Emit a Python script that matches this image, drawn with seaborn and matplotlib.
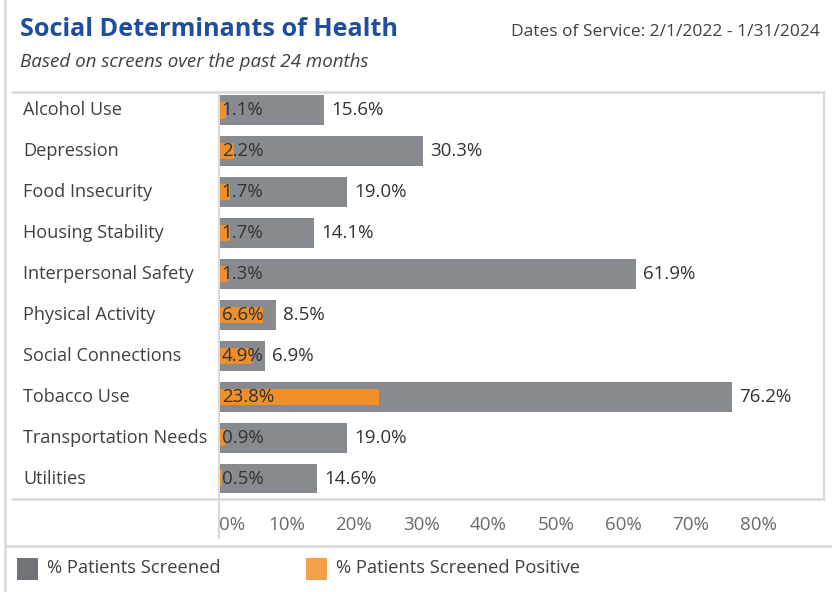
import matplotlib
matplotlib.use("Agg")
import matplotlib.pyplot as plt
from matplotlib.lines import Line2D
from matplotlib.patches import Rectangle
import seaborn as sns
import pandas as pd

categories = ["Alcohol Use", "Depression", "Food Insecurity", "Housing Stability",
              "Interpersonal Safety", "Physical Activity", "Social Connections",
              "Tobacco Use", "Transportation Needs", "Utilities"]
screened = [15.6, 30.3, 19.0, 14.1, 61.9, 8.5, 6.9, 76.2, 19.0, 14.6]
positive = [1.1, 2.2, 1.7, 1.7, 1.3, 6.6, 4.9, 23.8, 0.9, 0.5]
xticks = [0, 10, 20, 30, 40, 50, 60, 70, 80]
series_names = ["% Patients Screened", "% Patients Screened Positive"]

GRAY = "#878A8F"
ORANGE = "#EF8F2A"
LEG_GRAY = "#6F7277"
LEG_ORANGE = "#F5A048"
TXT = "#404040"
LINE = "#D9D9D9"

sns.set_theme(style="white")
plt.rcParams["font.family"] = ["Open Sans", "DejaVu Sans"]

df = pd.DataFrame({"cat": categories, "screened": screened, "positive": positive})

W, H = 832, 592
fig = plt.figure(figsize=(W / 100, H / 100), dpi=100)
ax = fig.add_axes([219 / W, 1 - 499 / H, (824 - 219) / W, (499 - 92) / H])

sns.barplot(data=df, x="screened", y="cat", orient="h", color=GRAY,
            width=0.73, saturation=1, linewidth=0, ax=ax)
sns.barplot(data=df, x="positive", y="cat", orient="h", color=ORANGE,
            width=0.40, saturation=1, linewidth=0, ax=ax)

ax.set_xlim(0, 89.8)
ax.set_ylim(9.5, -0.45)
ax.set_xlabel("")
ax.set_ylabel("")
ax.set_yticks([])
ax.set_xticks(xticks)
ax.set_xticklabels([f"{t}%" for t in xticks], fontsize=13.5, color="#6A6A6A")
ax.get_xticklabels()[0].set_horizontalalignment("left")
ax.tick_params(axis="x", length=6, width=1, color="#EBEBEB", pad=6, direction="out")
for s in ["top", "left", "bottom"]:
    ax.spines[s].set_visible(False)
ax.spines["right"].set_color(LINE)
ax.spines["right"].set_linewidth(1.5)

# value labels
ax.bar_label(ax.containers[0], labels=[f"{v:.1f}%" for v in screened],
             padding=5, fontsize=13.5, color="#333333")
for i, v in enumerate(positive):
    ax.text(0.4, i, f"{v:.1f}%", ha="left", va="center", fontsize=13.5,
            color="#333333")

# category labels
for i, c in enumerate(categories):
    ax.text(23 / W, ax.transData.transform((0, i))[1] / H, c,
            transform=fig.transFigure, ha="left", va="center",
            fontsize=13.1, color=TXT)

# frame lines
fig.add_artist(Line2D([12 / W, 824 / W], [1 - 92 / H] * 2, color=LINE, lw=1.8,
                      transform=fig.transFigure))
fig.add_artist(Line2D([12 / W, 824 / W], [1 - 499 / H] * 2, color=LINE, lw=1.8,
                      transform=fig.transFigure))
fig.add_artist(Line2D([219 / W] * 2, [1 - 92 / H, 1 - 538 / H], color=LINE, lw=1.5,
                      transform=fig.transFigure))
fig.add_artist(Line2D([5 / W] * 2, [0, 1], color=LINE, lw=1.8,
                      transform=fig.transFigure))
fig.add_artist(Line2D([5 / W, 1], [1 - 546 / H] * 2, color=LINE, lw=1.8,
                      transform=fig.transFigure))

# titles
fig.text(20 / W, 1 - 30 / H, "Social Determinants of Health", ha="left", va="center",
         fontsize=18.2, fontweight="bold", color="#1F4E9E")
fig.text(820 / W, 1 - 32 / H, "Dates of Service: 2/1/2022 - 1/31/2024", ha="right",
         va="center", fontsize=12.5, color=TXT)
fig.text(20 / W, 1 - 62 / H, "Based on screens over the past 24 months", ha="left",
         va="center", fontsize=13.5, style="italic", color=TXT)

# legend
for x0, col, name in [(17, LEG_GRAY, series_names[0]), (306, LEG_ORANGE, series_names[1])]:
    fig.add_artist(Rectangle((x0 / W, 1 - 580 / H), 21 / W, 22 / H, color=col,
                             lw=0, transform=fig.transFigure))
    fig.text((x0 + 30) / W, 1 - 568 / H, name, ha="left", va="center",
             fontsize=13.2, color=TXT)

fig.savefig("out.png", dpi=100)
